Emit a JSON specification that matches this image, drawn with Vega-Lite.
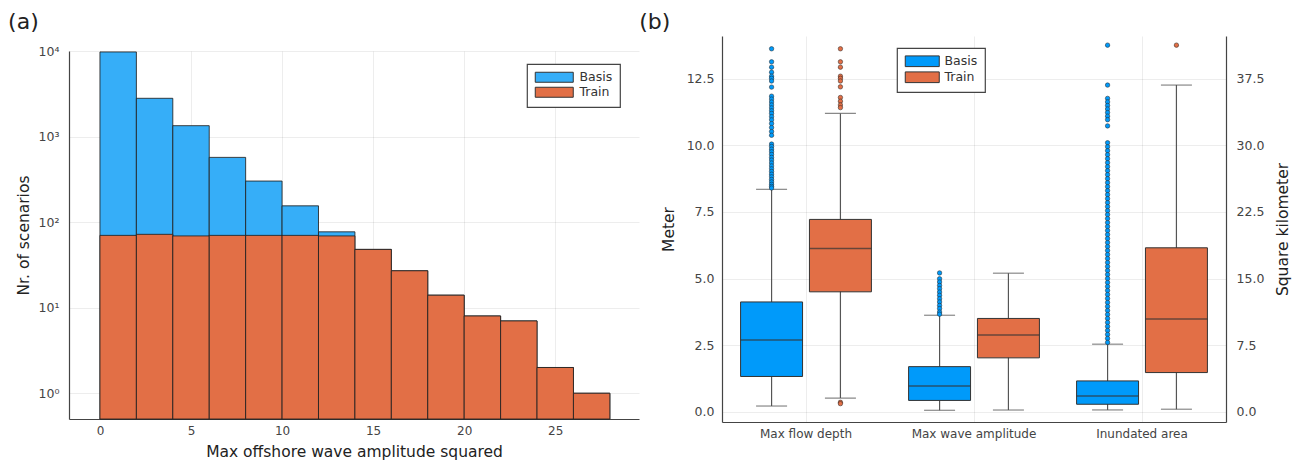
{
  "$schema": "https://vega.github.io/schema/vega-lite/v6.json",
  "padding": {"left": 8, "top": 11, "right": 0, "bottom": 0},
  "background": "white",
  "config": {
    "font": "DejaVu Sans",
    "view": {"stroke": null},
    "axis": {
      "domainColor": "#444", "domainWidth": 1.2,
      "gridColor": "#000", "gridOpacity": 0.07, "gridWidth": 1,
      "labelColor": "#444", "labelFontSize": 12.5,
      "titleColor": "#222", "titleFontSize": 15.5, "titleFontWeight": "normal",
      "ticks": false
    },
    "legend": {
      "orient": "none", "strokeColor": "#444", "strokeWidth": 1.2, "fillColor": "white",
      "padding": 7, "labelFontSize": 12.5, "labelColor": "#333", "symbolStrokeColor": "#333",
      "symbolStrokeWidth": 1, "symbolOpacity": 1, "cornerRadius": 0, "title": null,
      "symbolSize": 100, "rowPadding": 0
    },
    "title": {"fontSize": 22, "fontWeight": "normal", "color": "#222", "anchor": "start", "frame": "bounds"}
  },
  "datasets": {
    "hist": [
      {"series": "Basis", "bin_start": 0, "bin_end": 2, "count": 9750},
      {"series": "Basis", "bin_start": 2, "bin_end": 4, "count": 2800},
      {"series": "Basis", "bin_start": 4, "bin_end": 6, "count": 1340},
      {"series": "Basis", "bin_start": 6, "bin_end": 8, "count": 571},
      {"series": "Basis", "bin_start": 8, "bin_end": 10, "count": 302},
      {"series": "Basis", "bin_start": 10, "bin_end": 12, "count": 155},
      {"series": "Basis", "bin_start": 12, "bin_end": 14, "count": 77},
      {"series": "Basis", "bin_start": 14, "bin_end": 16, "count": 48},
      {"series": "Basis", "bin_start": 16, "bin_end": 18, "count": 27},
      {"series": "Basis", "bin_start": 18, "bin_end": 20, "count": 14},
      {"series": "Basis", "bin_start": 20, "bin_end": 22, "count": 8},
      {"series": "Basis", "bin_start": 22, "bin_end": 24, "count": 7},
      {"series": "Basis", "bin_start": 24, "bin_end": 26, "count": 2},
      {"series": "Basis", "bin_start": 26, "bin_end": 28, "count": 1},
      {"series": "Train", "bin_start": 0, "bin_end": 2, "count": 70},
      {"series": "Train", "bin_start": 2, "bin_end": 4, "count": 72},
      {"series": "Train", "bin_start": 4, "bin_end": 6, "count": 69},
      {"series": "Train", "bin_start": 6, "bin_end": 8, "count": 70},
      {"series": "Train", "bin_start": 8, "bin_end": 10, "count": 70},
      {"series": "Train", "bin_start": 10, "bin_end": 12, "count": 70},
      {"series": "Train", "bin_start": 12, "bin_end": 14, "count": 69},
      {"series": "Train", "bin_start": 14, "bin_end": 16, "count": 48},
      {"series": "Train", "bin_start": 16, "bin_end": 18, "count": 27},
      {"series": "Train", "bin_start": 18, "bin_end": 20, "count": 14},
      {"series": "Train", "bin_start": 20, "bin_end": 22, "count": 8},
      {"series": "Train", "bin_start": 22, "bin_end": 24, "count": 7},
      {"series": "Train", "bin_start": 24, "bin_end": 26, "count": 2},
      {"series": "Train", "bin_start": 26, "bin_end": 28, "count": 1}
    ],
    "box_m": [
      {"var": "Max flow depth", "series": "Basis", "lower": 0.21, "q1": 1.32, "median": 2.69, "q3": 4.12, "upper": 8.35},
      {"var": "Max flow depth", "series": "Train", "lower": 0.51, "q1": 4.5, "median": 6.13, "q3": 7.22, "upper": 11.2},
      {"var": "Max wave amplitude", "series": "Basis", "lower": 0.05, "q1": 0.42, "median": 0.96, "q3": 1.69, "upper": 3.62},
      {"var": "Max wave amplitude", "series": "Train", "lower": 0.06, "q1": 2.02, "median": 2.88, "q3": 3.5, "upper": 5.2}
    ],
    "box_km": [
      {"var": "Inundated area", "series": "Basis", "lower": 0.19, "q1": 0.83, "median": 1.77, "q3": 3.46, "upper": 7.6},
      {"var": "Inundated area", "series": "Train", "lower": 0.27, "q1": 4.4, "median": 10.45, "q3": 18.46, "upper": 36.8}
    ],
    "out_m": [
      {"var": "Max flow depth", "series": "Basis", "value": 13.63},
      {"var": "Max flow depth", "series": "Basis", "value": 13.14},
      {"var": "Max flow depth", "series": "Basis", "value": 12.94},
      {"var": "Max flow depth", "series": "Basis", "value": 12.75},
      {"var": "Max flow depth", "series": "Basis", "value": 12.6},
      {"var": "Max flow depth", "series": "Basis", "value": 12.52},
      {"var": "Max flow depth", "series": "Basis", "value": 12.42},
      {"var": "Max flow depth", "series": "Basis", "value": 12.19},
      {"var": "Max flow depth", "series": "Basis", "value": 11.85},
      {"var": "Max flow depth", "series": "Basis", "value": 11.74},
      {"var": "Max flow depth", "series": "Basis", "value": 11.63},
      {"var": "Max flow depth", "series": "Basis", "value": 11.52},
      {"var": "Max flow depth", "series": "Basis", "value": 11.41},
      {"var": "Max flow depth", "series": "Basis", "value": 11.3},
      {"var": "Max flow depth", "series": "Basis", "value": 11.2},
      {"var": "Max flow depth", "series": "Basis", "value": 11.08},
      {"var": "Max flow depth", "series": "Basis", "value": 10.96},
      {"var": "Max flow depth", "series": "Basis", "value": 10.82},
      {"var": "Max flow depth", "series": "Basis", "value": 10.67},
      {"var": "Max flow depth", "series": "Basis", "value": 10.52},
      {"var": "Max flow depth", "series": "Basis", "value": 10.38},
      {"var": "Max flow depth", "series": "Basis", "value": 10.05},
      {"var": "Max flow depth", "series": "Basis", "value": 9.96},
      {"var": "Max flow depth", "series": "Basis", "value": 9.86},
      {"var": "Max flow depth", "series": "Basis", "value": 9.76},
      {"var": "Max flow depth", "series": "Basis", "value": 9.66},
      {"var": "Max flow depth", "series": "Basis", "value": 9.55},
      {"var": "Max flow depth", "series": "Basis", "value": 9.45},
      {"var": "Max flow depth", "series": "Basis", "value": 9.34},
      {"var": "Max flow depth", "series": "Basis", "value": 9.23},
      {"var": "Max flow depth", "series": "Basis", "value": 9.12},
      {"var": "Max flow depth", "series": "Basis", "value": 9.02},
      {"var": "Max flow depth", "series": "Basis", "value": 8.92},
      {"var": "Max flow depth", "series": "Basis", "value": 8.82},
      {"var": "Max flow depth", "series": "Basis", "value": 8.72},
      {"var": "Max flow depth", "series": "Basis", "value": 8.63},
      {"var": "Max flow depth", "series": "Basis", "value": 8.54},
      {"var": "Max flow depth", "series": "Basis", "value": 8.46},
      {"var": "Max flow depth", "series": "Basis", "value": 8.4},
      {"var": "Max flow depth", "series": "Train", "value": 13.63},
      {"var": "Max flow depth", "series": "Train", "value": 13.14},
      {"var": "Max flow depth", "series": "Train", "value": 12.94},
      {"var": "Max flow depth", "series": "Train", "value": 12.6},
      {"var": "Max flow depth", "series": "Train", "value": 12.52},
      {"var": "Max flow depth", "series": "Train", "value": 12.42},
      {"var": "Max flow depth", "series": "Train", "value": 12.2},
      {"var": "Max flow depth", "series": "Train", "value": 11.8},
      {"var": "Max flow depth", "series": "Train", "value": 11.66},
      {"var": "Max flow depth", "series": "Train", "value": 11.52},
      {"var": "Max flow depth", "series": "Train", "value": 11.42},
      {"var": "Max flow depth", "series": "Train", "value": 0.35},
      {"var": "Max flow depth", "series": "Train", "value": 0.3},
      {"var": "Max wave amplitude", "series": "Basis", "value": 5.21},
      {"var": "Max wave amplitude", "series": "Basis", "value": 4.99},
      {"var": "Max wave amplitude", "series": "Basis", "value": 4.87},
      {"var": "Max wave amplitude", "series": "Basis", "value": 4.74},
      {"var": "Max wave amplitude", "series": "Basis", "value": 4.62},
      {"var": "Max wave amplitude", "series": "Basis", "value": 4.49},
      {"var": "Max wave amplitude", "series": "Basis", "value": 4.37},
      {"var": "Max wave amplitude", "series": "Basis", "value": 4.24},
      {"var": "Max wave amplitude", "series": "Basis", "value": 4.12},
      {"var": "Max wave amplitude", "series": "Basis", "value": 3.99},
      {"var": "Max wave amplitude", "series": "Basis", "value": 3.87},
      {"var": "Max wave amplitude", "series": "Basis", "value": 3.74},
      {"var": "Max wave amplitude", "series": "Basis", "value": 3.66}
    ],
    "out_km": [
      {"var": "Inundated area", "series": "Basis", "value": 41.3},
      {"var": "Inundated area", "series": "Basis", "value": 36.8},
      {"var": "Inundated area", "series": "Basis", "value": 35.3},
      {"var": "Inundated area", "series": "Basis", "value": 34.9},
      {"var": "Inundated area", "series": "Basis", "value": 34.5},
      {"var": "Inundated area", "series": "Basis", "value": 34.1},
      {"var": "Inundated area", "series": "Basis", "value": 33.7},
      {"var": "Inundated area", "series": "Basis", "value": 33.3},
      {"var": "Inundated area", "series": "Basis", "value": 32.9},
      {"var": "Inundated area", "series": "Basis", "value": 32.2},
      {"var": "Inundated area", "series": "Basis", "value": 30.3},
      {"var": "Inundated area", "series": "Basis", "value": 29.85},
      {"var": "Inundated area", "series": "Basis", "value": 29.4},
      {"var": "Inundated area", "series": "Basis", "value": 28.95},
      {"var": "Inundated area", "series": "Basis", "value": 28.5},
      {"var": "Inundated area", "series": "Basis", "value": 28.05},
      {"var": "Inundated area", "series": "Basis", "value": 27.6},
      {"var": "Inundated area", "series": "Basis", "value": 27.15},
      {"var": "Inundated area", "series": "Basis", "value": 26.7},
      {"var": "Inundated area", "series": "Basis", "value": 26.25},
      {"var": "Inundated area", "series": "Basis", "value": 25.8},
      {"var": "Inundated area", "series": "Basis", "value": 25.35},
      {"var": "Inundated area", "series": "Basis", "value": 24.9},
      {"var": "Inundated area", "series": "Basis", "value": 24.45},
      {"var": "Inundated area", "series": "Basis", "value": 24.0},
      {"var": "Inundated area", "series": "Basis", "value": 23.55},
      {"var": "Inundated area", "series": "Basis", "value": 23.1},
      {"var": "Inundated area", "series": "Basis", "value": 22.65},
      {"var": "Inundated area", "series": "Basis", "value": 22.2},
      {"var": "Inundated area", "series": "Basis", "value": 21.75},
      {"var": "Inundated area", "series": "Basis", "value": 21.3},
      {"var": "Inundated area", "series": "Basis", "value": 20.85},
      {"var": "Inundated area", "series": "Basis", "value": 20.4},
      {"var": "Inundated area", "series": "Basis", "value": 19.95},
      {"var": "Inundated area", "series": "Basis", "value": 19.5},
      {"var": "Inundated area", "series": "Basis", "value": 19.05},
      {"var": "Inundated area", "series": "Basis", "value": 18.6},
      {"var": "Inundated area", "series": "Basis", "value": 18.15},
      {"var": "Inundated area", "series": "Basis", "value": 17.7},
      {"var": "Inundated area", "series": "Basis", "value": 17.25},
      {"var": "Inundated area", "series": "Basis", "value": 16.8},
      {"var": "Inundated area", "series": "Basis", "value": 16.35},
      {"var": "Inundated area", "series": "Basis", "value": 15.9},
      {"var": "Inundated area", "series": "Basis", "value": 15.45},
      {"var": "Inundated area", "series": "Basis", "value": 15.0},
      {"var": "Inundated area", "series": "Basis", "value": 14.55},
      {"var": "Inundated area", "series": "Basis", "value": 14.1},
      {"var": "Inundated area", "series": "Basis", "value": 13.65},
      {"var": "Inundated area", "series": "Basis", "value": 13.2},
      {"var": "Inundated area", "series": "Basis", "value": 12.75},
      {"var": "Inundated area", "series": "Basis", "value": 12.3},
      {"var": "Inundated area", "series": "Basis", "value": 11.85},
      {"var": "Inundated area", "series": "Basis", "value": 11.4},
      {"var": "Inundated area", "series": "Basis", "value": 10.95},
      {"var": "Inundated area", "series": "Basis", "value": 10.5},
      {"var": "Inundated area", "series": "Basis", "value": 10.05},
      {"var": "Inundated area", "series": "Basis", "value": 9.6},
      {"var": "Inundated area", "series": "Basis", "value": 9.15},
      {"var": "Inundated area", "series": "Basis", "value": 8.7},
      {"var": "Inundated area", "series": "Basis", "value": 8.25},
      {"var": "Inundated area", "series": "Basis", "value": 7.8},
      {"var": "Inundated area", "series": "Train", "value": 41.3}
    ]
  },
  "hconcat": [
    {
      "title": {"text": "(a)", "offset": 2, "dx": -8},
      "spacing": 0,
      "vconcat": [
        {
          "width": 570,
          "height": 9,
          "data": {"values": []},
          "mark": "point"
        },
        {
          "width": 570,
          "height": 368,
          "data": {"name": "hist"},
          "mark": {"type": "bar", "stroke": "#222", "strokeWidth": 1, "strokeOpacity": 0.85},
          "encoding": {
            "x": {"field": "bin_start", "type": "quantitative",
                  "scale": {"domain": [-1.7, 29.6], "nice": false, "zero": false},
                  "axis": {"values": [0, 5, 10, 15, 20, 25], "title": "Max offshore wave amplitude squared", "labelPadding": 6, "titlePadding": 8, "labelFontSize": 12}},
            "x2": {"field": "bin_end"},
            "y": {"field": "count", "type": "quantitative", "stack": null,
                  "scale": {"type": "log", "domain": [0.5, 10000], "nice": false},
                  "axis": {"values": [1, 10, 100, 1000, 10000], "title": "Nr. of scenarios", "labelPadding": 10, "titlePadding": 7,
                           "labelExpr": "datum.value == 1 ? '10⁰' : datum.value == 10 ? '10¹' : datum.value == 100 ? '10²' : datum.value == 1000 ? '10³' : '10⁴'"}},
            "y2": {"datum": 0.5},
            "color": {"field": "series", "type": "nominal",
                      "scale": {"domain": ["Basis", "Train"], "range": ["#36AEF8", "#E26F46"]},
                      "legend": {"legendX": 458, "legendY": 28, "symbolType": "M-3.8,-1H3.8V1H-3.8Z", "symbolOffset": 14, "labelOffset": 19, "labelExpr": "datum.label + '\u00a0\u00a0'"}}
          }
        }
      ]
    },
    {
      "width": 504,
      "height": 386,
      "title": {"text": "(b)", "offset": 2, "dx": -22},
      "encoding": {
        "x": {"field": "var", "type": "nominal", "sort": null,
              "scale": {"domain": ["Max flow depth", "Max wave amplitude", "Inundated area"], "paddingInner": 0, "paddingOuter": 0},
              "axis": {"title": null, "labelAngle": 0, "labelPadding": 6, "labelFontSize": 12, "grid": true}},
        "xOffset": {"field": "series", "type": "nominal", "scale": {"domain": ["Basis", "Train"], "paddingInner": 0.1, "paddingOuter": 0.27}}
      },
      "layer": [
        {
          "layer": [
            {
              "data": {"name": "box_m"},
              "mark": {"type": "rule", "color": "#555", "strokeWidth": 1.2},
              "encoding": {
                "y": {"field": "lower", "type": "quantitative", "scale": {"domain": [-0.39, 14.11], "nice": false, "zero": false},
                      "axis": {"values": [0, 2.5, 5, 7.5, 10, 12.5], "format": ".1f", "title": "Meter", "labelPadding": 8, "titlePadding": 10, "grid": true}},
                "y2": {"field": "upper"}
              }
            },
            {
              "data": {"name": "box_m"},
              "mark": {"type": "bar", "stroke": "#333", "strokeWidth": 1},
              "encoding": {
                "y": {"field": "q3", "type": "quantitative", "scale": {"domain": [-0.39, 14.11], "nice": false, "zero": false},
                      "axis": {"values": [0, 2.5, 5, 7.5, 10, 12.5], "format": ".1f", "title": "Meter", "labelPadding": 8, "titlePadding": 10, "grid": true}},
                "y2": {"field": "q1"},
                "color": {"field": "series", "type": "nominal",
                          "scale": {"domain": ["Basis", "Train"], "range": ["#009AFA", "#E26F46"]},
                          "legend": {"legendX": 175, "legendY": 12, "symbolType": "M-3.4,-1.07H3.4V1.07H-3.4Z", "symbolOffset": 12, "labelOffset": 16, "labelExpr": "datum.label + '\u00a0'"}}
              }
            },
            {
              "data": {"name": "box_m"},
              "mark": {"type": "tick", "color": "#333", "size": 62, "thickness": 1.5},
              "encoding": {
                "y": {"field": "median", "type": "quantitative", "scale": {"domain": [-0.39, 14.11], "nice": false, "zero": false},
                      "axis": {"values": [0, 2.5, 5, 7.5, 10, 12.5], "format": ".1f", "title": "Meter", "labelPadding": 8, "titlePadding": 10, "grid": true}}
              }
            },
            {
              "data": {"name": "box_m"},
              "mark": {"type": "tick", "color": "#555", "size": 31, "thickness": 1.2},
              "encoding": {
                "y": {"field": "lower", "type": "quantitative", "scale": {"domain": [-0.39, 14.11], "nice": false, "zero": false},
                      "axis": {"values": [0, 2.5, 5, 7.5, 10, 12.5], "format": ".1f", "title": "Meter", "labelPadding": 8, "titlePadding": 10, "grid": true}}
              }
            },
            {
              "data": {"name": "box_m"},
              "mark": {"type": "tick", "color": "#555", "size": 31, "thickness": 1.2},
              "encoding": {
                "y": {"field": "upper", "type": "quantitative", "scale": {"domain": [-0.39, 14.11], "nice": false, "zero": false},
                      "axis": {"values": [0, 2.5, 5, 7.5, 10, 12.5], "format": ".1f", "title": "Meter", "labelPadding": 8, "titlePadding": 10, "grid": true}}
              }
            },
            {
              "data": {"name": "out_m"},
              "mark": {"type": "point", "filled": true, "size": 20, "stroke": "#222", "strokeWidth": 0.5, "opacity": 1},
              "encoding": {
                "y": {"field": "value", "type": "quantitative", "scale": {"domain": [-0.39, 14.11], "nice": false, "zero": false},
                      "axis": {"values": [0, 2.5, 5, 7.5, 10, 12.5], "format": ".1f", "title": "Meter", "labelPadding": 8, "titlePadding": 10, "grid": true}},
                "color": {"field": "series", "type": "nominal",
                          "scale": {"domain": ["Basis", "Train"], "range": ["#009AFA", "#E26F46"]},
                          "legend": {"legendX": 175, "legendY": 12, "symbolType": "M-3.4,-1.07H3.4V1.07H-3.4Z", "symbolOffset": 12, "labelOffset": 16, "labelExpr": "datum.label + '\u00a0'"}}
              }
            }
          ]
        },
        {
          "layer": [
            {
              "data": {"name": "box_km"},
              "mark": {"type": "rule", "color": "#555", "strokeWidth": 1.2},
              "encoding": {
                "y": {"field": "lower", "type": "quantitative", "scale": {"domain": [-1.17, 42.33], "nice": false, "zero": false},
                      "axis": {"orient": "right", "values": [0, 7.5, 15, 22.5, 30, 37.5], "format": ".1f", "title": "Square kilometer", "titleAngle": -90, "titleBaseline": "top", "labelPadding": 10, "titlePadding": 12, "grid": false}},
                "y2": {"field": "upper"}
              }
            },
            {
              "data": {"name": "box_km"},
              "mark": {"type": "bar", "stroke": "#333", "strokeWidth": 1},
              "encoding": {
                "y": {"field": "q3", "type": "quantitative", "scale": {"domain": [-1.17, 42.33], "nice": false, "zero": false},
                      "axis": {"orient": "right", "values": [0, 7.5, 15, 22.5, 30, 37.5], "format": ".1f", "title": "Square kilometer", "titleAngle": -90, "titleBaseline": "top", "labelPadding": 10, "titlePadding": 12, "grid": false}},
                "y2": {"field": "q1"},
                "color": {"field": "series", "type": "nominal",
                          "scale": {"domain": ["Basis", "Train"], "range": ["#009AFA", "#E26F46"]},
                          "legend": {"legendX": 175, "legendY": 12, "symbolType": "M-3.4,-1.07H3.4V1.07H-3.4Z", "symbolOffset": 12, "labelOffset": 16, "labelExpr": "datum.label + '\u00a0'"}}
              }
            },
            {
              "data": {"name": "box_km"},
              "mark": {"type": "tick", "color": "#333", "size": 62, "thickness": 1.5},
              "encoding": {
                "y": {"field": "median", "type": "quantitative", "scale": {"domain": [-1.17, 42.33], "nice": false, "zero": false},
                      "axis": {"orient": "right", "values": [0, 7.5, 15, 22.5, 30, 37.5], "format": ".1f", "title": "Square kilometer", "titleAngle": -90, "titleBaseline": "top", "labelPadding": 10, "titlePadding": 12, "grid": false}}
              }
            },
            {
              "data": {"name": "box_km"},
              "mark": {"type": "tick", "color": "#555", "size": 31, "thickness": 1.2},
              "encoding": {
                "y": {"field": "lower", "type": "quantitative", "scale": {"domain": [-1.17, 42.33], "nice": false, "zero": false},
                      "axis": {"orient": "right", "values": [0, 7.5, 15, 22.5, 30, 37.5], "format": ".1f", "title": "Square kilometer", "titleAngle": -90, "titleBaseline": "top", "labelPadding": 10, "titlePadding": 12, "grid": false}}
              }
            },
            {
              "data": {"name": "box_km"},
              "mark": {"type": "tick", "color": "#555", "size": 31, "thickness": 1.2},
              "encoding": {
                "y": {"field": "upper", "type": "quantitative", "scale": {"domain": [-1.17, 42.33], "nice": false, "zero": false},
                      "axis": {"orient": "right", "values": [0, 7.5, 15, 22.5, 30, 37.5], "format": ".1f", "title": "Square kilometer", "titleAngle": -90, "titleBaseline": "top", "labelPadding": 10, "titlePadding": 12, "grid": false}}
              }
            },
            {
              "data": {"name": "out_km"},
              "mark": {"type": "point", "filled": true, "size": 20, "stroke": "#222", "strokeWidth": 0.5, "opacity": 1},
              "encoding": {
                "y": {"field": "value", "type": "quantitative", "scale": {"domain": [-1.17, 42.33], "nice": false, "zero": false},
                      "axis": {"orient": "right", "values": [0, 7.5, 15, 22.5, 30, 37.5], "format": ".1f", "title": "Square kilometer", "titleAngle": -90, "titleBaseline": "top", "labelPadding": 10, "titlePadding": 12, "grid": false}},
                "color": {"field": "series", "type": "nominal",
                          "scale": {"domain": ["Basis", "Train"], "range": ["#009AFA", "#E26F46"]},
                          "legend": {"legendX": 175, "legendY": 12, "symbolType": "M-3.4,-1.07H3.4V1.07H-3.4Z", "symbolOffset": 12, "labelOffset": 16, "labelExpr": "datum.label + '\u00a0'"}}
              }
            }
          ]
        }
      ],
      "resolve": {"scale": {"y": "independent"}}
    }
  ],
  "spacing": 0,
  "resolve": {"scale": {"color": "independent", "x": "independent", "y": "independent"}}
}
